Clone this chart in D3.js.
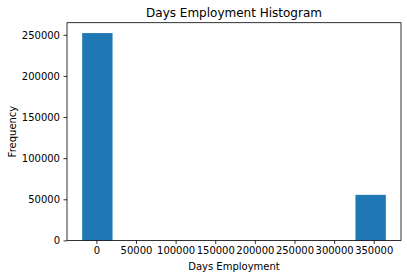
<!DOCTYPE html>
<html><head><meta charset="utf-8">
<script src="https://cdn.jsdelivr.net/npm/d3@7"></script>
<style>body{margin:0;background:#fff}svg{display:block}text{font-family:"DejaVu Sans",sans-serif}</style>
</head><body>
<script>
const binEdges = [-17912, 20403.5, 58719, 97034.5, 135350, 173665.5, 211981, 250296.5, 288612, 326927.5, 365243];
const binCounts = [252135, 0, 0, 0, 0, 0, 0, 0, 0, 55374];
const xTicks = [0, 50000, 100000, 150000, 200000, 250000, 300000, 350000];
const yTicks = [0, 50000, 100000, 150000, 200000, 250000];
const titleText = "Days Employment Histogram";
const xLabel = "Days Employment";
const yLabel = "Frequency";

const W = 407, H = 278;
const m = {left: 67, right: 6, top: 22.7, bottom: 37.6};
const svg = d3.select("body").append("svg").attr("width", W).attr("height", H);

const lo = binEdges[0], hi = binEdges[binEdges.length - 1];
const pad = (hi - lo) * 0.05;
const x = d3.scaleLinear().domain([lo - pad, hi + pad]).range([m.left, W - m.right]);
const y = d3.scaleLinear().domain([0, d3.max(binCounts) * 1.05]).range([H - m.bottom, m.top]);

const bins = binCounts.map((c, i) => ({x0: binEdges[i], x1: binEdges[i + 1], c}));
svg.append("g").selectAll("rect").data(bins.filter(d => d.c > 0)).join("rect")
  .attr("x", d => x(d.x0)).attr("width", d => x(d.x1) - x(d.x0))
  .attr("y", d => y(d.c)).attr("height", d => y(0) - y(d.c))
  .attr("fill", "#1f77b4");

const xa = svg.append("g").attr("transform", `translate(0,${H - m.bottom})`)
  .call(d3.axisBottom(x).tickValues(xTicks).tickFormat(d3.format("d")).tickSize(3.5).tickPadding(3.5));
const ya = svg.append("g").attr("transform", `translate(${m.left},0)`)
  .call(d3.axisLeft(y).tickValues(yTicks).tickFormat(d3.format("d")).tickSize(3.5).tickPadding(3.5));
[xa, ya].forEach(a => {
  a.select(".domain").remove();
  a.selectAll("text").attr("font-size", 10).attr("fill", "#000").style("font-family", "DejaVu Sans");
  a.selectAll("line").attr("stroke", "#000").attr("stroke-width", 0.8);
});

svg.append("rect").attr("x", m.left).attr("y", m.top)
  .attr("width", W - m.right - m.left).attr("height", H - m.bottom - m.top)
  .attr("fill", "none").attr("stroke", "#000").attr("stroke-width", 0.8);

svg.append("text").attr("x", (m.left + W - m.right) / 2).attr("y", 17)
  .attr("text-anchor", "middle").attr("font-size", 12).text(titleText);
svg.append("text").attr("x", (m.left + W - m.right) / 2).attr("y", 269.5)
  .attr("text-anchor", "middle").attr("font-size", 10).text(xLabel);
svg.append("text").attr("transform", `translate(15.5,${(m.top + H - m.bottom) / 2}) rotate(-90)`)
  .attr("text-anchor", "middle").attr("font-size", 10).text(yLabel);
</script>
</body></html>
